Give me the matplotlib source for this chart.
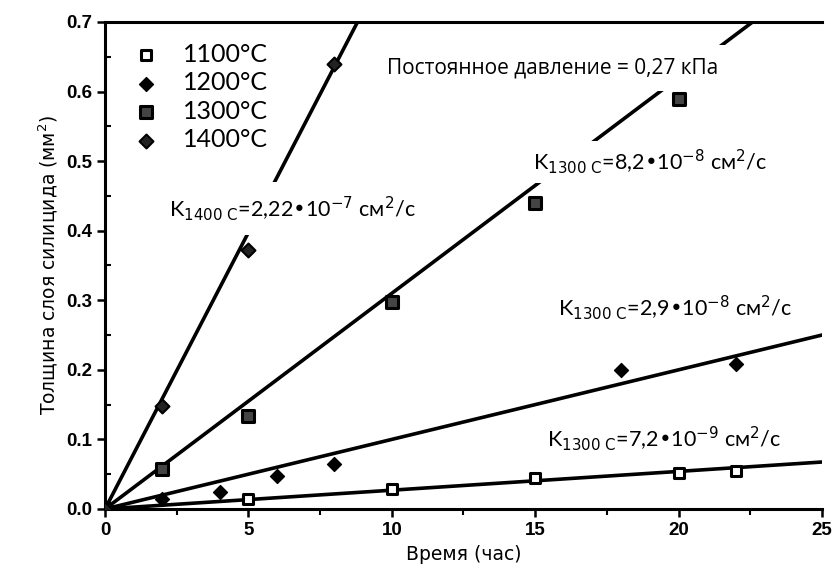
import matplotlib
matplotlib.use("Agg")
import matplotlib.pyplot as plt
import numpy as np

# time (h), thickness (mm^2)
t_1100 = [0, 5, 10, 15, 20, 22]
d_1100 = [0.0, 0.015, 0.028, 0.044, 0.052, 0.055]
t_1200 = [0, 2, 4, 6, 8, 18, 22]
d_1200 = [0.0, 0.015, 0.025, 0.047, 0.065, 0.200, 0.208]
t_1300 = [0, 2, 5, 10, 15, 20]
d_1300 = [0.0, 0.058, 0.133, 0.297, 0.440, 0.590]
t_1400 = [0, 2, 5, 8]
d_1400 = [0.0, 0.148, 0.372, 0.640]

# fitted line slopes (mm^2 per hour)
slope_1100 = 0.0027
slope_1200 = 0.0100
slope_1300 = 0.0310
slope_1400 = 0.0795

legend_labels = ["1100°C", "1200°C", "1300°C", "1400°C"]

fig = plt.figure(figsize=(8.37, 5.88), dpi=100)
ax = fig.add_axes([0.1255, 0.1344, 0.8565, 0.8282])

xx = np.linspace(0, 25, 200)
for s in [slope_1100, slope_1200, slope_1300, slope_1400]:
    ax.plot(xx, s * xx, color="black", lw=2.6, zorder=2)
ax.plot([0, 25], [0, 0], color="black", lw=2)

h1 = ax.scatter(t_1100, d_1100, marker="s", s=60, facecolor="white", edgecolor="black", linewidths=2.2, zorder=3)
h2 = ax.scatter(t_1200, d_1200, marker="D", s=50, color="black", zorder=3)
h3 = ax.scatter(t_1300, d_1300, marker="s", s=65, facecolor="#444444", edgecolor="black", linewidths=2.2, zorder=3)
h4 = ax.scatter(t_1400, d_1400, marker="D", s=50, facecolor="#222222", edgecolor="black", linewidths=1.5, zorder=3)

leg = ax.legend([h1, h2, h3, h4], legend_labels, loc="upper left", frameon=False,
                prop={"family": "Lato", "size": 18}, handletextpad=0.7, handlelength=1.6,
                labelspacing=0.22, borderaxespad=0.0, bbox_to_anchor=(0.015, 0.978))

box = dict(facecolor="white", edgecolor="none", pad=5)
tf = {"family": "Lato", "size": 15.5}
ax.text(15.6, 0.634, "Постоянное давление = 0,27 кПа", ha="center", va="center",
        fontsize=15, family="Open Sans", bbox=dict(facecolor="white", edgecolor="none", pad=9), zorder=5)
ax.text(6.55, 0.432, r"K$_{\mathrm{1400\ C}}$=2,22•10$^{-7}$ см$^2$/с", ha="center", va="center",
        bbox=dict(facecolor="white", edgecolor="none", pad=9), zorder=5, **tf)
ax.text(19.0, 0.499, r"K$_{\mathrm{1300\ C}}$=8,2•10$^{-8}$ см$^2$/с", ha="center", va="center",
        bbox=box, zorder=5, **tf)
ax.text(19.9, 0.290, r"K$_{\mathrm{1300\ C}}$=2,9•10$^{-8}$ см$^2$/с", ha="center", va="center",
        bbox=box, zorder=5, **tf)
ax.text(19.5, 0.101, r"K$_{\mathrm{1300\ C}}$=7,2•10$^{-9}$ см$^2$/с", ha="center", va="center",
        bbox=dict(facecolor="white", edgecolor="none", pad=3), zorder=5, **tf)

ax.set_xlim(0, 25)
ax.set_ylim(0, 0.7)
ax.set_xticks([0, 5, 10, 15, 20, 25])
ax.set_xticks(np.arange(0, 25.1, 2.5), minor=True)
ax.set_yticks(np.arange(0, 0.71, 0.1))
ax.set_yticks(np.arange(0, 0.71, 0.05), minor=True)
ax.set_yticklabels([f"{v:.1f}" for v in np.arange(0, 0.71, 0.1)])
for lab in ax.get_xticklabels() + ax.get_yticklabels():
    lab.set_fontweight("bold")
    lab.set_fontsize(13.5)
    lab.set_family("Liberation Sans")
ax.tick_params(which="major", direction="out", length=6, width=1.8)
ax.tick_params(axis="y", which="minor", direction="in", length=4, width=1.5)
ax.tick_params(axis="x", which="minor", direction="out", length=4, width=1.5)
ax.spines["right"].set_visible(False)
for sp in ["left", "bottom", "top"]:
    ax.spines[sp].set_linewidth(2.2)

ax.set_xlabel("Время (час)", fontsize=13.5, family="DejaVu Sans")
ax.set_ylabel("Толщина слоя силицида (мм$^2$)", fontsize=13.5, family="DejaVu Sans")

fig.savefig("out.png", dpi=100)
